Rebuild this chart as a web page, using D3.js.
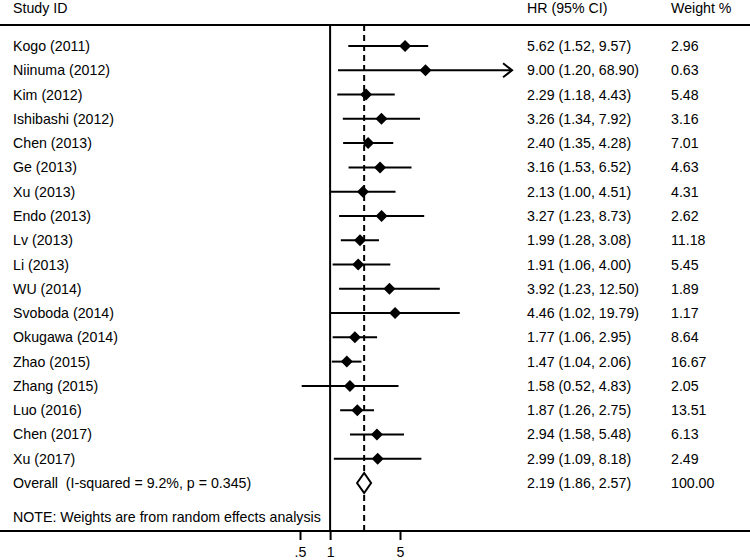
<!DOCTYPE html>
<html>
<head>
<meta charset="utf-8">
<script src="https://cdn.jsdelivr.net/npm/d3@7"></script>
<style>
  body { margin: 0; background: #fff; }
  text { font-family: "Liberation Sans", Arial, sans-serif; font-size: 14.2px; fill: #000; white-space: pre; }
</style>
</head>
<body>
<div id="chart"></div>
<script>
const studies = ['Kogo (2011)', 'Niinuma (2012)', 'Kim (2012)', 'Ishibashi (2012)', 'Chen (2013)',
  'Ge (2013)', 'Xu (2013)', 'Endo (2013)', 'Lv (2013)', 'Li (2013)', 'WU (2014)', 'Svoboda (2014)',
  'Okugawa (2014)', 'Zhao (2015)', 'Zhang (2015)', 'Luo (2016)', 'Chen (2017)', 'Xu (2017)'];
const hr     = [5.62, 9.00, 2.29, 3.26, 2.40, 3.16, 2.13, 3.27, 1.99, 1.91, 3.92, 4.46, 1.77, 1.47, 1.58, 1.87, 2.94, 2.99];
const lower  = [1.52, 1.20, 1.18, 1.34, 1.35, 1.53, 1.00, 1.23, 1.28, 1.06, 1.23, 1.02, 1.06, 1.04, 0.52, 1.26, 1.58, 1.09];
const upper  = [9.57, 68.90, 4.43, 7.92, 4.28, 6.52, 4.51, 8.73, 3.08, 4.00, 12.50, 19.79, 2.95, 2.06, 4.83, 2.75, 5.48, 8.18];
const weight = [2.96, 0.63, 5.48, 3.16, 7.01, 4.63, 4.31, 2.62, 11.18, 5.45, 1.89, 1.17, 8.64, 16.67, 2.05, 13.51, 6.13, 2.49];
const overall = {label: 'Overall  (I-squared = 9.2%, p = 0.345)', hr: 2.19, lower: 1.86, upper: 2.57, weight: 100.00};
const xTicks = [0.5, 1, 5];
const xTickLabels = ['.5', '1', '5'];
const clipHi = 66;  // CI lines are cut (arrow) beyond this HR

const W = 750, H = 560;
const svg = d3.select('#chart').append('svg')
  .attr('width', W).attr('height', H);

const x = d3.scaleLog().domain([0.5, 5]).range([300, 400]);
const y = d3.scaleLinear().domain([0, studies.length]).range([46, 483]);
const TOP = 25, AXIS_Y = 531;
const COL_LABEL = 13, COL_HR = 527, COL_W = 671;
const fmt = d3.format('.2f');

// header
svg.append('text').attr('x', COL_LABEL).attr('y', 13).text('Study ID');
svg.append('text').attr('x', COL_HR).attr('y', 13).text('HR (95% CI)');
svg.append('text').attr('x', COL_W).attr('y', 13).text('Weight %');
svg.append('line').attr('x1', 0).attr('x2', W).attr('y1', TOP).attr('y2', TOP)
  .attr('stroke', '#000').attr('stroke-width', 2);

// null line and overall dashed line
svg.append('line').attr('x1', x(1)).attr('x2', x(1)).attr('y1', TOP).attr('y2', AXIS_Y)
  .attr('stroke', '#000').attr('stroke-width', 2);
svg.append('line').attr('x1', x(overall.hr)).attr('x2', x(overall.hr)).attr('y1', TOP).attr('y2', AXIS_Y)
  .attr('stroke', '#000').attr('stroke-width', 2).attr('stroke-dasharray', '6,4');

// x axis
const axis = svg.append('g').attr('transform', `translate(0,${AXIS_Y})`)
  .call(d3.axisBottom(x).tickValues(xTicks).tickFormat((d, i) => xTickLabels[i]).tickSize(9).tickPadding(7));
axis.select('.domain').remove();
axis.selectAll('.tick line').attr('stroke', '#000').attr('stroke-width', 2);
axis.selectAll('.tick text').style('font-size', '14.2px').attr('fill', '#000');
svg.append('line').attr('x1', 0).attr('x2', W).attr('y1', AXIS_Y).attr('y2', AXIS_Y)
  .attr('stroke', '#000').attr('stroke-width', 2);

// study rows
const rows = studies.map((s, i) => ({s, hr: hr[i], lo: lower[i], hi: upper[i], w: weight[i], i}));
const g = svg.selectAll('g.row').data(rows).enter().append('g').attr('class', 'row');

g.append('text').attr('x', COL_LABEL).attr('y', d => y(d.i) + 5).text(d => d.s);
g.append('text').attr('x', COL_HR).attr('y', d => y(d.i) + 5)
  .text(d => `${fmt(d.hr)} (${fmt(d.lo)}, ${fmt(d.hi)})`);
g.append('text').attr('x', COL_W).attr('y', d => y(d.i) + 5).text(d => fmt(d.w));

g.append('line')
  .attr('x1', d => x(d.lo)).attr('x2', d => x(Math.min(d.hi, clipHi)))
  .attr('y1', d => y(d.i)).attr('y2', d => y(d.i))
  .attr('stroke', '#000').attr('stroke-width', 2);

g.filter(d => d.hi > clipHi).append('path')
  .attr('d', d => {
    const tx = x(clipHi), ty = y(d.i);
    return `M${tx - 9},${ty - 7}L${tx},${ty}L${tx - 9},${ty + 7}`;
  })
  .attr('fill', 'none').attr('stroke', '#000').attr('stroke-width', 2);

const D = 6;
g.append('path')
  .attr('d', d => {
    const cx = x(d.hr), cy = y(d.i);
    return `M${cx - D},${cy}L${cx},${cy - D}L${cx + D},${cy}L${cx},${cy + D}Z`;
  })
  .attr('fill', '#000');

// overall row
const oy = y(studies.length);
svg.append('text').attr('x', COL_LABEL).attr('y', oy + 5).text(overall.label);
svg.append('text').attr('x', COL_HR).attr('y', oy + 5)
  .text(`${fmt(overall.hr)} (${fmt(overall.lower)}, ${fmt(overall.upper)})`);
svg.append('text').attr('x', COL_W).attr('y', oy + 5).text(fmt(overall.weight));
svg.append('path')
  .attr('d', `M${x(overall.lower)},${oy}L${x(overall.hr)},${oy - 10}L${x(overall.upper)},${oy}L${x(overall.hr)},${oy + 10}Z`)
  .attr('fill', '#fff').attr('stroke', '#000').attr('stroke-width', 2);

// note
svg.append('text').attr('x', COL_LABEL).attr('y', 522)
  .text('NOTE: Weights are from random effects analysis');
</script>
</body>
</html>
